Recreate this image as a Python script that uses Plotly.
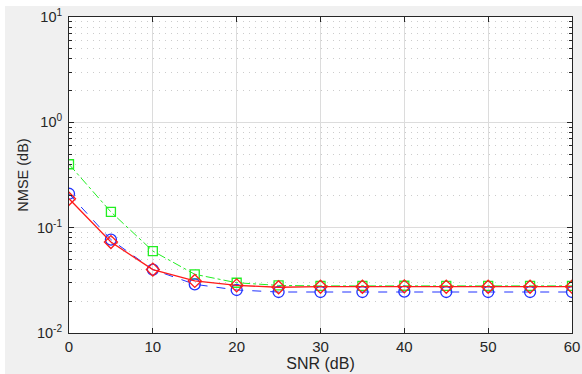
import plotly.graph_objects as go

snr = [0, 5, 10, 15, 20, 25, 30, 35, 40, 45, 50, 55, 60]
nmse_green = [0.40, 0.141, 0.060, 0.0361, 0.0300, 0.0283, 0.0280, 0.0280, 0.0281, 0.0280, 0.0280, 0.0280, 0.0280]
nmse_blue = [0.210, 0.077, 0.040, 0.0290, 0.0256, 0.0245, 0.0245, 0.0245, 0.0247, 0.0245, 0.0245, 0.0245, 0.0245]
nmse_red = [0.188, 0.073, 0.040, 0.0312, 0.0283, 0.0272, 0.0275, 0.0275, 0.0277, 0.0275, 0.0275, 0.0275, 0.0275]

x_ticks = [0, 10, 20, 30, 40, 50, 60]
y_ticks = [0.01, 0.1, 1, 10]
y_ticktext = ["10<sup>-2</sup>", "10<sup>-1</sup>", "10<sup>0</sup>", "10<sup>1</sup>"]
y_minor = [m * d for d in (0.01, 0.1, 1) for m in range(2, 10)]

INK = "#262626"
fig = go.Figure()
fig.add_trace(go.Scatter(x=snr, y=nmse_green, mode="lines+markers",
                         line=dict(color="#22ee22", width=1, dash="dashdot"),
                         marker=dict(symbol="square-open", size=9, color="#22ee22", line=dict(width=1.3))))
fig.add_trace(go.Scatter(x=snr, y=nmse_blue, mode="lines+markers",
                         line=dict(color="#2233ff", width=1, dash="dash"),
                         marker=dict(symbol="circle-open", size=11, color="#2233ff", line=dict(width=1.3))))
fig.add_trace(go.Scatter(x=snr, y=nmse_red, mode="lines+markers",
                         line=dict(color="#ff1a1a", width=1.3),
                         marker=dict(symbol="diamond-open", size=10, color="#ff1a1a", line=dict(width=1.3))))
# invisible helper trace so the major-tick axis is drawn
fig.add_trace(go.Scatter(x=snr, y=nmse_red, yaxis="y2", mode="lines",
                         line=dict(width=0), opacity=0, hoverinfo="skip"))

W, H = 582, 374
ml, mr, mt, mb = 69, W - 572, 17, H - 333
pw, ph = 572 - ml, 333 - mt
fig.update_layout(
    width=W, height=H,
    margin=dict(l=ml, r=mr, t=mt, b=mb, autoexpand=False),
    paper_bgcolor="#f0f0f0",
    plot_bgcolor="white",
    showlegend=False,
    font=dict(family="Liberation Sans, Arial, sans-serif", size=14, color=INK),
    xaxis=dict(
        range=[0, 60], tickvals=x_ticks, ticks="inside", ticklen=5, tickcolor=INK,
        showline=True, linecolor=INK, linewidth=1, mirror="ticks",
        showgrid=True, gridcolor="#dcdcdc", gridwidth=1, zeroline=False,
        title=dict(text="SNR (dB)", standoff=1, font=dict(size=16)),
        tickfont=dict(size=15), automargin=False,
    ),
    yaxis=dict(
        type="log", range=[-2, 1], tickvals=y_minor, showticklabels=False,
        ticks="inside", ticklen=3, tickcolor=INK,
        showline=True, linecolor=INK, linewidth=1, mirror="ticks",
        showgrid=True, gridcolor="#cccccc", griddash="1px,5px", gridwidth=1, zeroline=False,
        automargin=False,
    ),
    yaxis2=dict(
        type="log", range=[-2, 1], overlaying="y", side="left",
        tickvals=y_ticks, ticktext=y_ticktext,
        ticks="inside", ticklen=5, tickcolor=INK,
        showline=True, linecolor=INK, linewidth=1, mirror="ticks",
        showgrid=True, gridcolor="#dcdcdc", gridwidth=1, zeroline=False,
        title=dict(text="NMSE (dB)", standoff=4, font=dict(size=14.5)),
        tickfont=dict(size=14.5), ticklabelstandoff=3, automargin=False,
    ),
    shapes=[
        dict(type="rect", xref="paper", yref="paper", layer="above",
             x0=-0.5, x1=(5 - ml) / pw, y0=-0.5, y1=1.5,
             fillcolor="white", line=dict(width=0)),
        dict(type="rect", xref="paper", yref="paper", layer="above",
             x0=-0.5, x1=1.5, y0=(333 - 6) / ph, y1=1.5,
             fillcolor="white", line=dict(width=0)),
    ],
)
fig.write_html("out.html", config={"displayModeBar": False},
               post_script="document.body.style.margin='0';document.body.style.overflow='hidden';")
